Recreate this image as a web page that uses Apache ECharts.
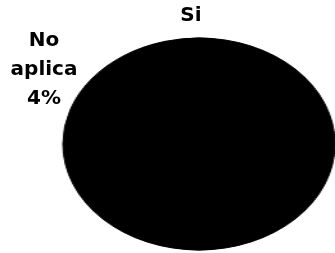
<!DOCTYPE html>
<html>
<head>
<meta charset="utf-8">
<script src="https://cdn.jsdelivr.net/npm/echarts@6/dist/echarts.min.js"></script>
<style>
    html, body { margin: 0; padding: 0; background: #fff; }
    #wrap { position: relative; width: 335px; height: 253px; overflow: hidden; }
    /* el grafico original es una torta inclinada -> elipse */
    #pie { position: absolute; left: 0; top: 0; width: 261px; height: 253px;
           transform: scaleX(1.2835); transform-origin: 0 0; }
    #labels { position: absolute; left: 0; top: 0; width: 335px; height: 253px; pointer-events: none; }
</style>
</head>
<body>
<div id="wrap">
    <div id="pie"></div>
    <div id="labels"></div>
</div>
<script>
var categories = ['Si', 'No aplica'];
var values = [96, 4];
var colors = ['#000000', '#000000'];

var pieData = categories.map(function (c, i) {
    return { name: c, value: values[i], itemStyle: { color: colors[i], borderColor: colors[i] } };
});

// torta (se estira en x con css)
var pieChart = echarts.init(document.getElementById('pie'));
pieChart.setOption({
    animation: false,
    series: [{
        type: 'pie',
        center: [155, 144],
        radius: 106,
        startAngle: 90,
        label: { show: false },
        labelLine: { show: false },
        itemStyle: { borderWidth: 1 },
        data: pieData
    }]
});

// etiquetas sin deformar
var labelPos = {
    'Si': { x: 191, y: 16 },
    'No aplica': { x: 44, y: 70 }
};
var labelChart = echarts.init(document.getElementById('labels'));
labelChart.setOption({
    animation: false,
    series: [{
        type: 'pie',
        center: [199, 144],
        radius: 106,
        startAngle: 90,
        itemStyle: { color: 'transparent' },
        labelLine: { show: false },
        label: {
            show: true,
            color: '#000',
            fontFamily: 'DejaVu Sans',
            fontWeight: 'bold',
            fontSize: 20,
            lineHeight: 29,
            align: 'center',
            formatter: function (p) {
                if (p.name === 'Si') return p.name;
                return p.name.replace(' ', '\n') + '\n' + Math.round(p.percent) + '%';
            }
        },
        labelLayout: function (params) {
            var name = categories[params.dataIndex];
            var pos = labelPos[name];
            return { x: pos.x, y: pos.y, align: 'center', verticalAlign: 'middle' };
        },
        data: pieData
    }]
});
</script>
</body>
</html>
